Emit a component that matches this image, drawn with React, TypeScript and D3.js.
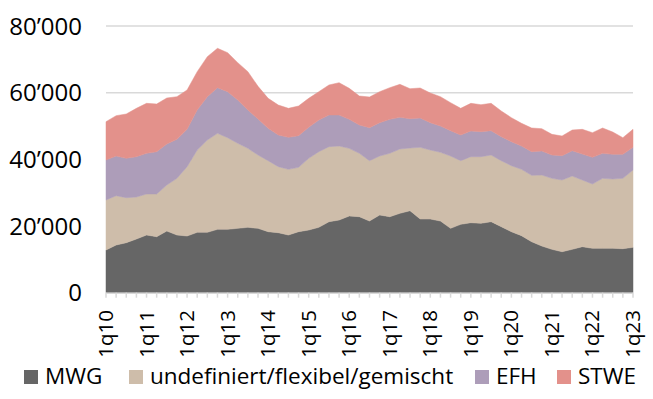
import { useEffect, useRef } from 'react'
import * as d3 from 'd3'

// quarterly values, 1q10 .. 1q23
const mwg = [12800, 14300, 15000, 16100, 17300, 16800, 18500, 17300, 17000, 18100, 18100, 19000, 19000, 19300, 19600, 19300, 18300, 18000, 17300, 18300, 18800, 19600, 21300, 21800, 23000, 22800, 21500, 23300, 22800, 23800, 24600, 22100, 22100, 21500, 19300, 20500, 21000, 20800, 21300, 19800, 18300, 17100, 15300, 14000, 13000, 12300, 13000, 13800, 13300, 13300, 13300, 13200, 13600]
const undef = [15000, 14800, 13500, 12600, 12300, 12800, 13800, 17000, 20800, 24700, 27700, 28800, 27500, 25500, 23700, 22000, 21300, 19800, 19700, 19300, 21500, 22700, 22500, 22200, 20300, 19000, 18100, 17700, 19000, 19300, 18800, 21500, 20700, 20600, 21700, 19100, 19800, 20000, 20000, 19800, 19800, 19900, 19900, 21300, 21300, 21500, 22000, 20000, 19300, 21000, 20800, 21100, 23200]
const efh = [12000, 11900, 11800, 12100, 12200, 12700, 12300, 11700, 11200, 12000, 13000, 13700, 13800, 13000, 11500, 10800, 9700, 9500, 9600, 9500, 9300, 9500, 9500, 9300, 8700, 8500, 9900, 10000, 10200, 9500, 8800, 8800, 8200, 7900, 7600, 7700, 7700, 7500, 7300, 7200, 7200, 7000, 7100, 7200, 7000, 7300, 7600, 7800, 8000, 7500, 7400, 7200, 6800]
const stwe = [11500, 12100, 13300, 14500, 15000, 14300, 13800, 12800, 11800, 11500, 12000, 11800, 11700, 11200, 11500, 9800, 9000, 9000, 8700, 8900, 8700, 8500, 9000, 9700, 9300, 8700, 9200, 9300, 9500, 9900, 9000, 9000, 8900, 8800, 8400, 8000, 8300, 8100, 8200, 7700, 7200, 6800, 7100, 6700, 6200, 5900, 6200, 7400, 7400, 7600, 6700, 5000, 5400]

const tickLabels = ['1q10', '1q11', '1q12', '1q13', '1q14', '1q15', '1q16', '1q17', '1q18', '1q19', '1q20', '1q21', '1q22', '1q23']
const yTicks = [0, 20000, 40000, 60000, 80000]

const seriesNames = ['MWG', 'undefiniert/flexibel/gemischt', 'EFH', 'STWE']
const seriesColors = ['#666666', '#cebdaa', '#ad9db9', '#e3918b']
const legendX = [24, 129, 475, 557]

const WIDTH = 653
const HEIGHT = 399
const FONT = '"Open Sans", "Noto Sans", sans-serif'

export default function App() {
  const svgRef = useRef<SVGSVGElement>(null)

  useEffect(() => {
    const svg = d3.select(svgRef.current)
    svg.selectAll('*').remove()

    const n = mwg.length
    const rows = mwg.map((_, i) => ({
      i,
      MWG: mwg[i],
      'undefiniert/flexibel/gemischt': undef[i],
      EFH: efh[i],
      STWE: stwe[i],
    }))

    const x = d3.scaleLinear().domain([0, n - 1]).range([106, 633])
    const y = d3.scaleLinear().domain([0, 80000]).range([292.7, 26])

    const locale = d3.formatLocale({ decimal: '.', thousands: '\u2019', grouping: [3], currency: ['', ''] })
    const fmt = locale.format(',')

    // gridlines
    svg.append('g')
      .selectAll('line')
      .data(yTicks.slice(1))
      .join('line')
      .attr('x1', x(0))
      .attr('x2', x(n - 1))
      .attr('y1', d => y(d))
      .attr('y2', d => y(d))
      .attr('stroke', '#d9d9d9')
      .attr('stroke-width', 1.5)

    // stacked areas
    const stacked = d3.stack<any>().keys(seriesNames)(rows)
    const area = d3.area<any>()
      .x(d => x(d.data.i))
      .y0(d => y(d[0]))
      .y1(d => y(d[1]))

    svg.append('g')
      .selectAll('path')
      .data(stacked)
      .join('path')
      .attr('d', area)
      .attr('fill', (_, k) => seriesColors[k])
      .attr('stroke', (_, k) => seriesColors[k])
      .attr('stroke-width', 0.5)

    // x axis baseline + quarter ticks
    svg.append('line')
      .attr('x1', x(0)).attr('x2', x(n - 1))
      .attr('y1', y(0) + 0.5).attr('y2', y(0) + 0.5)
      .attr('stroke', '#d9d9d9')
      .attr('stroke-width', 1.5)

    svg.append('g')
      .selectAll('line')
      .data(d3.range(n))
      .join('line')
      .attr('x1', d => x(d))
      .attr('x2', d => x(d))
      .attr('y1', y(0))
      .attr('y2', y(0) + 5)
      .attr('stroke', '#d9d9d9')
      .attr('stroke-width', 1.5)

    // y labels
    svg.append('g')
      .selectAll('text')
      .data(yTicks)
      .join('text')
      .attr('x', 82)
      .attr('y', d => y(d))
      .attr('dy', '0.36em')
      .attr('text-anchor', 'end')
      .style('font-family', FONT)
      .style('font-size', '24px')
      .attr('fill', '#000')
      .text(d => fmt(d))

    // x labels, rotated
    svg.append('g')
      .selectAll('text')
      .data(tickLabels)
      .join('text')
      .attr('transform', (_, k) => `translate(${x(k * 4) + 7},310) rotate(-90)`)
      .attr('text-anchor', 'end')
      .style('font-family', FONT)
      .style('font-size', '20.5px')
      .attr('fill', '#000')
      .text(d => d)

    // legend
    const legend = svg.append('g')
    seriesNames.forEach((name, k) => {
      legend.append('rect')
        .attr('x', legendX[k])
        .attr('y', 370)
        .attr('width', 14)
        .attr('height', 14)
        .attr('fill', seriesColors[k])
      legend.append('text')
        .attr('x', legendX[k] + 21)
        .attr('y', 384)
        .style('font-family', FONT)
        .style('font-size', '22.5px')
        .attr('fill', '#000')
        .text(name)
    })
  }, [])

  return (
    <svg
      ref={svgRef}
      width={WIDTH}
      height={HEIGHT}
      style={{ position: 'absolute', left: 0, top: 0, background: '#fff' }}
    />
  )
}
